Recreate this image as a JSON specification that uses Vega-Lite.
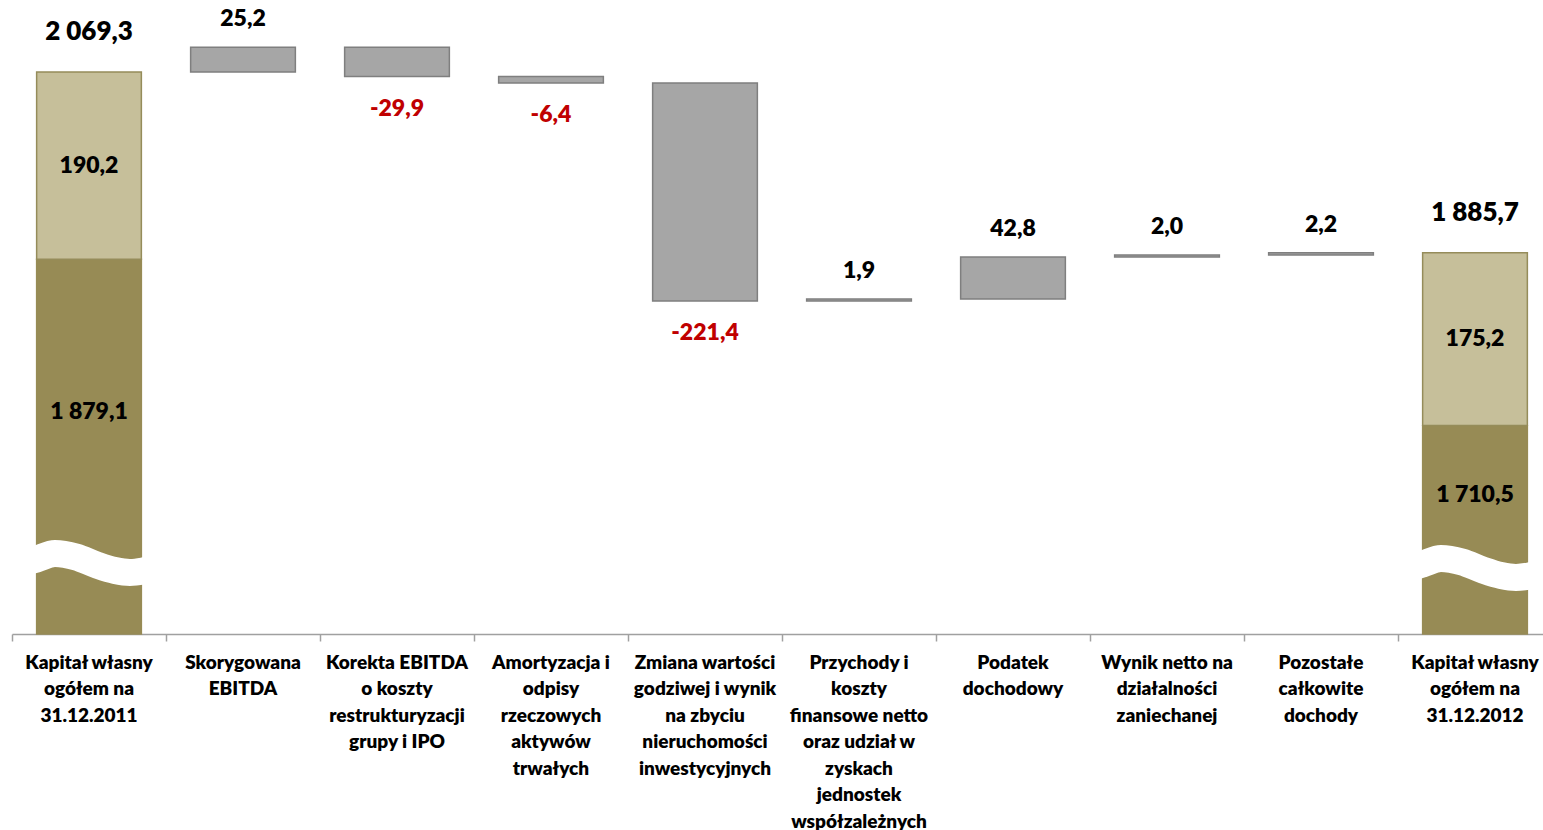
{
  "$schema": "https://vega.github.io/schema/vega-lite/v6.json",
  "autosize": {"type": "none"},
  "width": 1531,
  "height": 624,
  "padding": {"left": 12, "top": 10, "right": 0, "bottom": 196},
  "background": "white",
  "config": {
    "view": {"stroke": null},
    "locale": {"number": {"decimal": ",", "thousands": " ", "grouping": [3], "currency": ["", ""], "minus": "-"}},
    "text": {"font": "Lato", "fontWeight": 800}
  },
  "datasets": {
    "steps": [
      {"cat": "Kapitał własny|ogółem na|31.12.2011", "lo": 0, "hi": 1879.1, "val": 1879.1, "type": "base"},
      {"cat": "Kapitał własny|ogółem na|31.12.2011", "lo": 1879.1, "hi": 2069.3, "val": 190.2, "type": "other"},
      {"cat": "Skorygowana|EBITDA", "lo": 2069.3, "hi": 2094.5, "val": 25.2, "type": "delta"},
      {"cat": "Korekta EBITDA|o koszty|restrukturyzacji|grupy i IPO", "lo": 2064.6, "hi": 2094.5, "val": -29.9, "type": "delta"},
      {"cat": "Amortyzacja i|odpisy|rzeczowych|aktywów|trwałych", "lo": 2058.2, "hi": 2064.6, "val": -6.4, "type": "delta"},
      {"cat": "Zmiana wartości|godziwej i wynik|na zbyciu|nieruchomości|inwestycyjnych", "lo": 1836.8, "hi": 2058.2, "val": -221.4, "type": "delta"},
      {"cat": "Przychody i|koszty|finansowe netto|oraz udział w|zyskach|jednostek|współzależnych", "lo": 1836.8, "hi": 1838.7, "val": 1.9, "type": "delta"},
      {"cat": "Podatek|dochodowy", "lo": 1838.7, "hi": 1881.5, "val": 42.8, "type": "delta"},
      {"cat": "Wynik netto na|działalności|zaniechanej", "lo": 1881.5, "hi": 1883.5, "val": 2.0, "type": "delta"},
      {"cat": "Pozostałe|całkowite|dochody", "lo": 1883.5, "hi": 1885.7, "val": 2.2, "type": "delta"},
      {"cat": "Kapitał własny|ogółem na|31.12.2012", "lo": 0, "hi": 1710.5, "val": 1710.5, "type": "base"},
      {"cat": "Kapitał własny|ogółem na|31.12.2012", "lo": 1710.5, "hi": 1885.7, "val": 175.2, "type": "other"}
    ],
    "wave": [
      {"bar": "A", "u": 0.117, "v": 1572.9},
      {"bar": "A", "u": 0.160, "v": 1574.9},
      {"bar": "A", "u": 0.279, "v": 1580.5},
      {"bar": "A", "u": 0.416, "v": 1576.9},
      {"bar": "A", "u": 0.550, "v": 1568.8},
      {"bar": "A", "u": 0.669, "v": 1563.2},
      {"bar": "A", "u": 0.766, "v": 1561.2},
      {"bar": "A", "u": 0.851, "v": 1562.7},
      {"bar": "A", "u": 0.896, "v": 1564.2},
      {"bar": "B", "u": 9.117, "v": 1567.8},
      {"bar": "B", "u": 9.160, "v": 1569.8},
      {"bar": "B", "u": 9.279, "v": 1575.4},
      {"bar": "B", "u": 9.416, "v": 1571.8},
      {"bar": "B", "u": 9.550, "v": 1563.7},
      {"bar": "B", "u": 9.669, "v": 1558.1},
      {"bar": "B", "u": 9.766, "v": 1556.1},
      {"bar": "B", "u": 9.851, "v": 1557.6},
      {"bar": "B", "u": 9.896, "v": 1559.1}
    ]
  },
  "resolve": {"scale": {"x": "independent"}, "axis": {"x": "independent"}},
  "layer": [
    {
      "data": {"name": "steps"},
      "layer": [
        {
          "mark": {"type": "bar", "strokeWidth": 1.5},
          "encoding": {
            "x": {
              "field": "cat", "type": "nominal",
              "scale": {
                "domain": [
                  "Kapitał własny|ogółem na|31.12.2011",
                  "Skorygowana|EBITDA",
                  "Korekta EBITDA|o koszty|restrukturyzacji|grupy i IPO",
                  "Amortyzacja i|odpisy|rzeczowych|aktywów|trwałych",
                  "Zmiana wartości|godziwej i wynik|na zbyciu|nieruchomości|inwestycyjnych",
                  "Przychody i|koszty|finansowe netto|oraz udział w|zyskach|jednostek|współzależnych",
                  "Podatek|dochodowy",
                  "Wynik netto na|działalności|zaniechanej",
                  "Pozostałe|całkowite|dochody",
                  "Kapitał własny|ogółem na|31.12.2012"
                ],
                "range": [0, 1540],
                "paddingInner": 0.32,
                "paddingOuter": 0.16
              },
              "axis": {
                "orient": "bottom",
                "title": null,
                "labelAngle": 0,
                "labelExpr": "datum.value ? split(datum.value, '|') : ''",
                "labelFont": "Lato",
                "labelFontWeight": 800,
                "labelFontSize": 19,
                "labelColor": "#000000",
                "labelLineHeight": 26.5,
                "labelBaseline": "top",
                "labelPadding": 19,
                "labelOverlap": false,
                "labelBound": false,
                "labelLimit": 0,
                "ticks": false,
                "tickSize": 0,
                "domainColor": "#A0A0A0",
                "domainWidth": 1.5
              }
            },
            "y": {"field": "lo", "type": "quantitative", "scale": {"domain": [1498.7, 2132.2], "clamp": true, "nice": false, "zero": false}, "axis": null},
            "y2": {"field": "hi"},
            "color": {"field": "type", "type": "nominal", "scale": {"domain": ["base", "other", "delta"], "range": ["#978B55", "#C6BF9A", "#A6A6A6"]}, "legend": null},
            "stroke": {"field": "type", "type": "nominal", "scale": {"domain": ["base", "other", "delta"], "range": ["#978B55", "#958C5A", "#7F7F7F"]}, "legend": null}
          }
        },
        {
          "transform": [{"filter": "datum.type === 'other'"}],
          "mark": {"type": "text", "fontSize": 26, "dy": -40, "color": "#000000"},
          "encoding": {
            "x": {"field": "cat", "type": "nominal"},
            "y": {"field": "hi", "type": "quantitative"},
            "text": {"field": "hi", "type": "quantitative", "format": ",.1f"}
          }
        },
        {
          "transform": [
            {"filter": "datum.type !== 'delta'"},
            {"calculate": "datum.type === 'base' ? (datum.hi + 1568.8) / 2 : (datum.lo + datum.hi) / 2", "as": "mid"}
          ],
          "mark": {"type": "text", "fontSize": 23, "color": "#000000"},
          "encoding": {
            "x": {"field": "cat", "type": "nominal"},
            "y": {"field": "mid", "type": "quantitative"},
            "text": {"field": "val", "type": "quantitative", "format": ",.1f"}
          }
        },
        {
          "transform": [{"filter": "datum.type === 'delta' && datum.val > 0"}],
          "mark": {"type": "text", "fontSize": 23, "dy": -28, "color": "#000000"},
          "encoding": {
            "x": {"field": "cat", "type": "nominal"},
            "y": {"field": "hi", "type": "quantitative"},
            "text": {"field": "val", "type": "quantitative", "format": ",.1f"}
          }
        },
        {
          "transform": [{"filter": "datum.type === 'delta' && datum.val < 0"}],
          "mark": {"type": "text", "fontSize": 23, "dy": 32, "color": "#C00000"},
          "encoding": {
            "x": {"field": "cat", "type": "nominal"},
            "y": {"field": "lo", "type": "quantitative"},
            "text": {"field": "val", "type": "quantitative", "format": ",.1f"}
          }
        }
      ]
    },
    {
      "data": {"name": "wave"},
      "mark": {"type": "line", "stroke": "#FFFFFF", "strokeWidth": 27, "interpolate": "monotone", "strokeCap": "butt"},
      "encoding": {
        "x": {
          "field": "u", "type": "quantitative",
          "scale": {"domain": [0, 10], "range": [0, 1540], "nice": false, "zero": false},
          "axis": {
            "orient": "bottom",
            "values": [0, 1, 2, 3, 4, 5, 6, 7, 8, 9, 10],
            "labels": false,
            "domain": false,
            "grid": false,
            "title": null,
            "ticks": true,
            "tickSize": 7,
            "tickColor": "#A0A0A0",
            "tickWidth": 1.5,
            "offset": 0
          }
        },
        "y": {"field": "v", "type": "quantitative"},
        "detail": {"field": "bar", "type": "nominal"}
      }
    }
  ]
}
